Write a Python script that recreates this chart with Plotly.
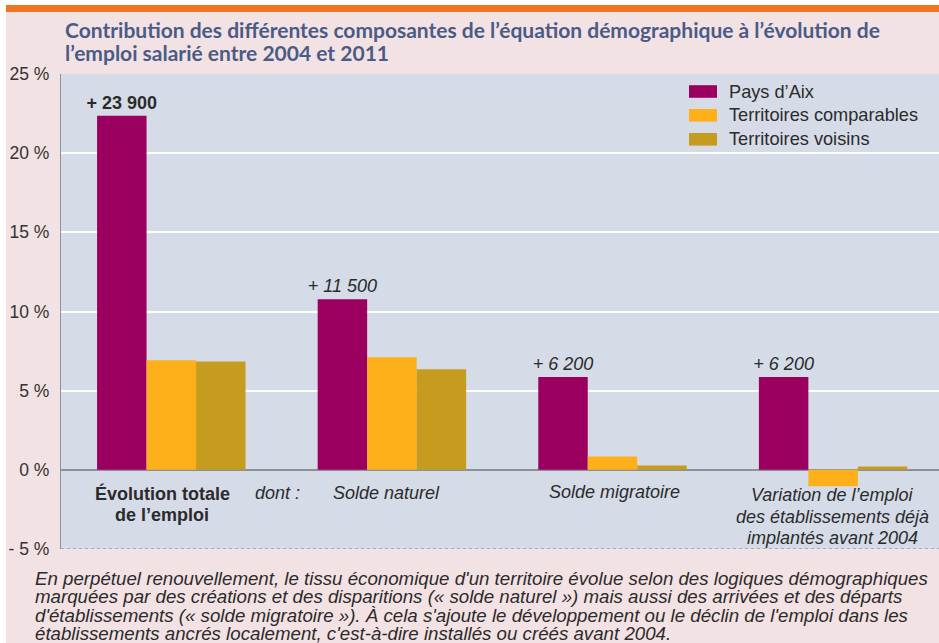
import plotly.graph_objects as go

# ---------------- data ----------------
categories = ["evolution", "solde_naturel", "solde_migratoire", "variation"]
series_names = ["Pays d’Aix", "Territoires comparables", "Territoires voisins"]
pays_aix = [22.36, 10.78, 5.86, 5.86]
territoires_comparables = [6.92, 7.11, 0.84, -1.04]
territoires_voisins = [6.85, 6.35, 0.27, 0.21]
bar_labels = ["+ 23 900", "+ 11 500", "+ 6 200", "+ 6 200"]
bar_label_bold = [True, False, False, False]
category_lines = [
    ["Évolution totale", "de l’emploi"],
    ["Solde naturel"],
    ["Solde migratoire"],
    ["Variation de l’emploi", "des établissements déjà", "implantés avant 2004"],
]
category_bold = [True, False, False, False]
dont_label = "dont :"
tick_values = [-5, 0, 5, 10, 15, 20, 25]
tick_labels = ["- 5 %", "0 %", "5 %", "10 %", "15 %", "20 %", "25 %"]
title_lines = [
    "Contribution des différentes composantes de l’équation démographique à l’évolution de",
    "l’emploi salarié entre 2004 et 2011",
]
caption_lines = [
    "En perpétuel renouvellement, le tissu économique d'un territoire évolue selon des logiques démographiques",
    "marquées par des créations et des disparitions (« solde naturel ») mais aussi des arrivées et des départs",
    "d'établissements (« solde migratoire »). À cela s'ajoute le développement ou le déclin de l'emploi dans les",
    "établissements ancrés localement, c'est-à-dire installés ou créés avant 2004.",
]

# ---------------- style ----------------
W, H = 939, 643
ML, MR, MT, MB = 61, 0, 74, 94
colors = ["#9b0060", "#fdb01a", "#c69c20"]
PINK = "#f3e2e3"
PLOT_BG = "#d5dce8"
ORANGE = "#f07522"
TITLE_COL = "#4a5b87"
TEXT_COL = "#2b2b2b"
AXIS_COL = "#8c9099"
ARIAL = "Liberation Sans, Arial, sans-serif"

PW = W - ML - MR
PH = H - MT - MB


def px2x(px):
    return (px - ML) / PW


def py2y(py):
    return (H - MB - py) / PH


fig = go.Figure()
series_values = [pays_aix, territoires_comparables, territoires_voisins]
for i, (name, vals) in enumerate(zip(series_names, series_values)):
    kw = {}
    if i == 0:
        kw = dict(
            text=[("<b>%s</b>" % t) if b else ("<i>%s</i>" % t) for t, b in zip(bar_labels, bar_label_bold)],
            textposition="outside",
            textfont=dict(family=ARIAL, size=18, color=TEXT_COL),
            constraintext="none",
            cliponaxis=False,
        )
    fig.add_trace(go.Bar(x=list(range(len(categories))), y=vals, name=name,
                         marker=dict(color=colors[i], line=dict(width=0)),
                         showlegend=False, hoverinfo="skip", **kw))

annotations = []
shapes = []

# background strips (white edge + orange rule)
shapes.append(dict(type="rect", xref="paper", yref="paper", x0=px2x(0), x1=px2x(W), y0=py2y(0), y1=py2y(5),
                   fillcolor="white", line=dict(width=0), layer="above"))
shapes.append(dict(type="rect", xref="paper", yref="paper", x0=px2x(0), x1=px2x(6), y0=py2y(0), y1=py2y(H),
                   fillcolor="white", line=dict(width=0), layer="above"))
shapes.append(dict(type="rect", xref="paper", yref="paper", x0=px2x(6), x1=px2x(W), y0=py2y(5), y1=py2y(12),
                   fillcolor=ORANGE, line=dict(width=0), layer="above"))

# dotted bottom line
shapes.append(dict(type="line", xref="paper", yref="y", x0=0, x1=1, y0=tick_values[0], y1=tick_values[0],
                   line=dict(color="#7a7e88", width=1, dash="dot"), layer="above"))

# title
for k, (line, py) in enumerate(zip(title_lines, [29.5, 52.5])):
    annotations.append(dict(text="<b>%s</b>" % line, xref="paper", yref="paper", x=px2x(63), y=py2y(py),
                            xanchor="left", yanchor="middle", showarrow=False,
                            font=dict(family="Lato, sans-serif", size=21, color=TITLE_COL)))

# manual legend
legend_rows = [91.5, 115.3, 139.3]
for name, col, py in zip(series_names, colors, legend_rows):
    shapes.append(dict(type="rect", xref="paper", yref="paper", x0=px2x(689), x1=px2x(717),
                       y0=py2y(py - 6.3), y1=py2y(py + 6.3), fillcolor=col, line=dict(width=0), layer="above"))
    annotations.append(dict(text=name, xref="paper", yref="paper", x=px2x(727), y=py2y(py),
                            xanchor="left", yanchor="middle", showarrow=False,
                            font=dict(family=ARIAL, size=18.2, color=TEXT_COL)))

# category labels inside the plot
label_shift = [-9, -5, 2, -1]
label_rows = [[493, 515], [493], [492], [495, 516.5, 537.5]]
for ci, (lines, rows) in enumerate(zip(category_lines, label_rows)):
    for line, py in zip(lines, rows):
        txt = "<b>%s</b>" % line if category_bold[ci] else "<i>%s</i>" % line
        annotations.append(dict(text=txt, xref="x", yref="paper", x=ci, y=py2y(py), xshift=label_shift[ci],
                                xanchor="center", yanchor="middle", showarrow=False,
                                font=dict(family=ARIAL, size=18, color=TEXT_COL)))
annotations.append(dict(text="<i>%s</i>" % dont_label, xref="x", yref="paper", x=0.5, y=py2y(493), xshift=-4,
                        xanchor="center", yanchor="middle", showarrow=False,
                        font=dict(family=ARIAL, size=18, color=TEXT_COL)))

# caption
for line, py in zip(caption_lines, [578, 596.5, 615, 633.5]):
    annotations.append(dict(text="<i>%s</i>" % line, xref="paper", yref="paper", x=px2x(33), y=py2y(py),
                            xanchor="left", yanchor="middle", showarrow=False,
                            font=dict(family=ARIAL, size=18.7, color=TEXT_COL)))

fig.update_layout(
    width=W, height=H,
    margin=dict(l=ML, r=MR, t=MT, b=MB, pad=0),
    paper_bgcolor=PINK, plot_bgcolor=PLOT_BG,
    barmode="group", bargap=0.327, bargroupgap=0,
    showlegend=False,
    annotations=annotations, shapes=shapes,
    xaxis=dict(range=[-0.5, 3.48], showticklabels=False, showgrid=False, zeroline=False,
               showline=False, ticks="", fixedrange=True),
    yaxis=dict(range=[-5, 25], tickvals=tick_values, ticktext=tick_labels,
               tickfont=dict(family=ARIAL, size=17.5, color="#333333"),
               showgrid=True, gridcolor="white", gridwidth=1.5,
               zeroline=True, zerolinecolor=AXIS_COL, zerolinewidth=1.5,
               showline=True, linecolor=AXIS_COL, linewidth=1.2,
               ticks="", ticklabelstandoff=7, fixedrange=True),
)

fig.write_html("out.html", config={"displayModeBar": False},
               post_script="document.body.style.margin='0';document.body.style.overflow='hidden';")
